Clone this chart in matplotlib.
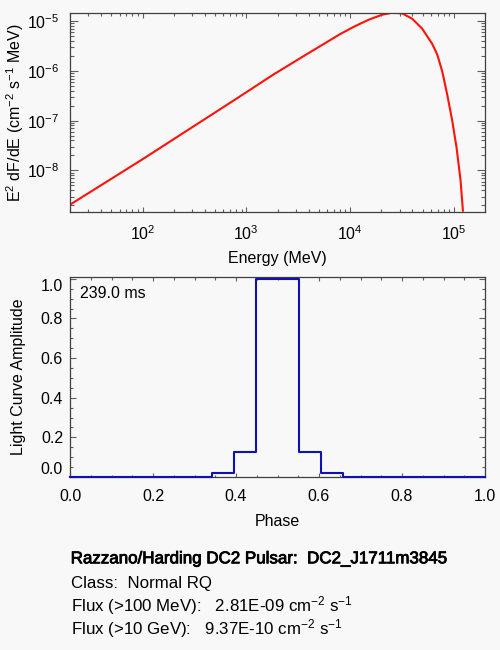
import numpy as np
import matplotlib
matplotlib.use('Agg')
import matplotlib.pyplot as plt
import matplotlib.patheffects as pe
from matplotlib.ticker import LogLocator, MultipleLocator, FixedLocator, FormatStrFormatter, NullFormatter

plt.rcParams['font.family'] = ['Liberation Sans', 'DejaVu Sans']
plt.rcParams['mathtext.default'] = 'regular'
plt.rcParams['axes.unicode_minus'] = False

# spectrum (MeV, E^2 dF/dE)
energy = [20, 100, 780, 1815, 3873, 8072, 11250, 15140, 20370, 25470, 31770,
          39720, 49660, 61940, 69340, 77450, 86500, 96830, 106400, 116400, 122500]
e2dnde = [2.06e-9, 1.68e-8, 2.65e-7, 8.36e-7, 2.19e-6, 5.50e-6, 7.94e-6, 1.062e-5,
          1.337e-5, 1.466e-5, 1.426e-5, 1.112e-5, 7.01e-6, 3.48e-6, 2.12e-6,
          9.72e-7, 3.33e-7, 9.77e-8, 2.88e-8, 6.19e-9, 1.56e-9]

# light curve bins
phase = [0.0, 0.053, 0.105, 0.158, 0.211, 0.263, 0.316, 0.368, 0.421, 0.474,
         0.526, 0.579, 0.632, 0.684, 0.737, 0.789, 0.842, 0.895, 0.947, 1.0]
amplitude = [0, 0, 0, 0, 0, 0, 0, 0.02, 0.127, 1.0,
             1.0, 0.127, 0.02, 0, 0, 0, 0, 0, 0, 0]
amp_ticks = [0.0, 0.2, 0.4, 0.6, 0.8, 1.0]

period_txt = '239.0 ms'
info_lines = ['Razzano/Harding DC2 Pulsar:  DC2_J1711m3845',
              'Class:  Normal RQ',
              r'Flux (>100 MeV):   2.81E-09 cm$^{-2}$ s$^{-1}$',
              r'Flux (>10 GeV):   9.37E-10 cm$^{-2}$ s$^{-1}$']

bg = '#f8f8f8'
spine_col = '#404040'
fs = 11.5

fig = plt.figure(figsize=(5, 6.5), dpi=100, facecolor=bg)

# ---- spectrum ----
ax1 = fig.add_axes([0.14, 0.6738, 0.83, 0.3066], facecolor=bg)
ax1.plot(energy, e2dnde, color='#ff1208', lw=1.5)
ax1.set_xscale('log')
ax1.set_yscale('log')
ymax = max(e2dnde)
ax1.set_xlim(20, 2e5)
ax1.set_ylim(ymax * 1e-4, ymax)
ax1.xaxis.set_minor_locator(LogLocator(base=10, subs=np.arange(2, 10)))
ax1.yaxis.set_minor_locator(LogLocator(base=10, subs=np.arange(2, 10)))
ax1.xaxis.set_minor_formatter(NullFormatter())
ax1.yaxis.set_minor_formatter(NullFormatter())
ax1.tick_params(axis='x', which='major', length=3.6, pad=9)
ax1.tick_params(axis='x', which='minor', length=2.2)
ax1.tick_params(axis='y', which='major', length=5.8, pad=8)
ax1.tick_params(axis='y', which='minor', length=3)
ax1.tick_params(which='both', direction='in', top=True, right=True,
                color='#606060', labelsize=fs, width=0.8)
ax1.set_xlabel('Energy (MeV)', fontsize=fs, va='center')
ax1.xaxis.set_label_coords(0.5, -0.231)
ax1.set_ylabel(r'E$^2$ dF/dE (cm$^{-2}$ s$^{-1}$ MeV)', fontsize=fs, va='center')
ax1.yaxis.set_label_coords(-0.1325, 0.5)

# ---- light curve ----
ax2 = fig.add_axes([0.14, 0.2662, 0.83, 0.3072], facecolor=bg)
ax2.step(phase, amplitude, where='mid', color='#1010b4', lw=1.5,
         clip_on=False, zorder=5)
ax2.set_xlim(0, 1)
ax2.set_ylim(0, 1.008)
ax2.xaxis.set_major_locator(MultipleLocator(0.2))
ax2.xaxis.set_minor_locator(MultipleLocator(0.05))
ax2.yaxis.set_major_locator(FixedLocator(amp_ticks))
ax2.yaxis.set_minor_locator(MultipleLocator(0.05))
ax2.xaxis.set_major_formatter(FormatStrFormatter('%.1f'))
ax2.yaxis.set_major_formatter(FormatStrFormatter('%.1f'))
ax2.tick_params(axis='x', which='major', length=3, pad=9)
ax2.tick_params(axis='x', which='minor', length=1.8)
ax2.tick_params(axis='y', which='major', length=4.3, pad=5)
ax2.tick_params(axis='y', which='minor', length=2.2)
ax2.tick_params(which='both', direction='in', top=True, right=True,
                color='#606060', labelsize=fs, width=0.8)
ax2.set_xlabel('Phase', fontsize=fs, va='center')
ax2.xaxis.set_label_coords(0.5, -0.224)
ax2.set_ylabel('Light Curve Amplitude', fontsize=fs, va='center')
ax2.yaxis.set_label_coords(-0.125, 0.5)
ax2.text(0.024, 0.92, period_txt, transform=ax2.transAxes, fontsize=fs,
         va='center', ha='left')

# end labels sit inside the frame like the original
yt = ax2.yaxis.get_major_ticks()
yt[0].label1.set_va('bottom')
yt[-1].label1.set_va('top')

for ax in (ax1, ax2):
    for s in ax.spines.values():
        s.set_color(spine_col)
        s.set_linewidth(0.9)

# ---- info text ----
ys = [0.1334, 0.0949, 0.0590, 0.0240]
for i, (t, y) in enumerate(zip(info_lines, ys)):
    txt = fig.text(0.1414, y, t, fontsize=12.2, va='baseline', ha='left')
    if i == 0:
        txt.set_path_effects([pe.withStroke(linewidth=0.6, foreground='black')])

fig.savefig('out.png', dpi=100, facecolor=bg)
